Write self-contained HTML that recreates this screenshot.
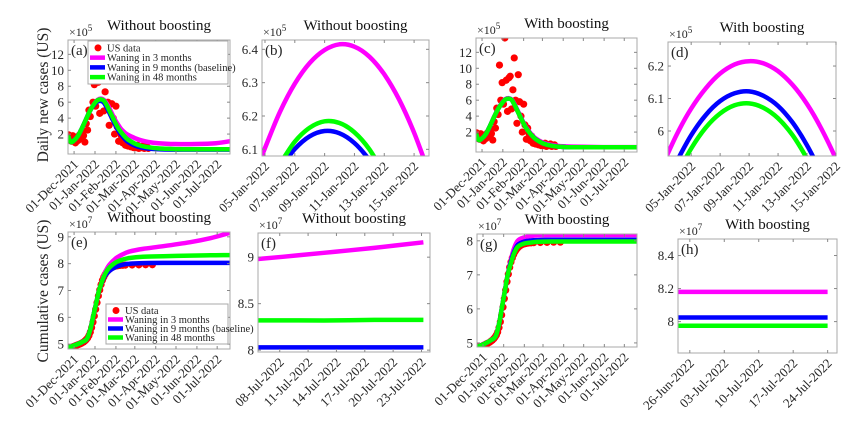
<!DOCTYPE html>
<html><head><meta charset="utf-8"><style>
html,body{margin:0;padding:0;background:#fff}
svg{display:block;font-family:"Liberation Serif",serif}
</style></head><body>
<svg id="fig" width="866" height="432" viewBox="0 0 866 432" xmlns="http://www.w3.org/2000/svg"></svg>
<script>
// ---- data (values in units of axis exponent) ----
const monthTickDays=[0,31,62,90,121,151,182,212];
const monthTickLabels=["01-Dec-2021","01-Jan-2022","01-Feb-2022","01-Mar-2022","01-Apr-2022","01-May-2022","01-Jun-2022","01-Jul-2022"];
// daily data (x1e5)
const dataDays=[-8,-6,-4,-2,0,2,4,6,8,10,12,14,16,18,20,22,24,26,28,30,32,34,36,38,40,42,44,46,48,50,52,54,56,58,60,62,64,66,68,70,72,74,76,78,80,82,84,86,88,90,92,94,96,98,100,102,104,106,108,110];
const dataDaily=[1.9,1.5,1.1,1.8,1.3,0.9,1.6,1.2,1.9,1.4,2.4,1.8,1.0,3.3,2.5,5.0,4.2,10.4,6.0,8.2,5.5,13.8,8.5,4.6,8.8,9.0,4.9,7.3,11.3,6.0,3.1,9.2,5.8,4.0,2.0,5.5,2.9,1.1,2.5,1.8,0.9,1.5,0.6,1.0,0.5,0.8,0.4,0.7,0.3,0.5,0.3,0.6,0.2,0.4,0.3,0.5,0.2,0.3,0.4,0.2];
const curveDays=[-9,-5,0,6,12,18,24,30,35,40,44,48,52,56,60,65,70,75,80,90,100,110,125,150,180,210,231];
const aMagenta=[1.8,1.0,1.2,1.8,2.8,3.9,5.0,5.8,6.3,6.45,6.3,5.9,5.3,4.6,3.9,3.2,2.6,2.2,1.9,1.5,1.2,1.0,0.85,0.75,0.75,0.85,1.1];
const aBlue=[1.8,1.0,1.2,1.8,2.8,3.9,5.0,5.7,6.1,6.15,5.95,5.4,4.7,4.0,3.3,2.5,1.9,1.4,1.0,0.55,0.3,0.18,0.1,0.05,0.05,0.05,0.05];
const aGreen=[1.8,1.0,1.2,1.8,2.8,3.9,5.0,5.8,6.25,6.35,6.2,5.7,5.0,4.3,3.6,2.8,2.2,1.7,1.3,0.8,0.5,0.35,0.2,0.12,0.1,0.1,0.1];
const cMagenta=[1.8,1.0,1.2,1.8,2.8,3.9,4.9,5.7,6.15,6.25,6.1,5.6,4.9,4.2,3.5,2.7,2.1,1.6,1.2,0.7,0.45,0.3,0.2,0.15,0.12,0.12,0.12];
const cBlue=[1.8,1.0,1.2,1.8,2.8,3.9,4.9,5.65,6.1,6.2,6.05,5.5,4.8,4.1,3.4,2.6,2.0,1.5,1.1,0.6,0.35,0.2,0.12,0.1,0.1,0.1,0.1];
const cGreen=[1.8,1.0,1.2,1.8,2.8,3.9,4.9,5.65,6.1,6.2,6.05,5.5,4.8,4.1,3.4,2.6,2.0,1.5,1.1,0.6,0.35,0.2,0.12,0.1,0.1,0.1,0.1];
// zoomed daily (x1e5), day of January
const janDays=[3,4,5,6,7,8,9,10,11,12,13,14,15,16];
const bMagenta=[5.88,5.99,6.104,6.212,6.297,6.359,6.398,6.415,6.408,6.378,6.325,6.249,6.150,6.029];
const bBlue=[5.84,5.93,5.99,6.041,6.101,6.139,6.155,6.148,6.119,6.068,6.0,5.92,5.83,5.72];
const bGreen=[5.86,5.95,6.01,6.058,6.123,6.165,6.184,6.179,6.151,6.100,6.025,5.94,5.84,5.73];
const dMagenta=[5.892,5.989,6.069,6.131,6.177,6.205,6.215,6.208,6.184,6.142,6.083,6.006,5.913,5.80];
const dBlue=[5.82,5.906,5.987,6.049,6.092,6.116,6.122,6.108,6.077,6.026,5.956,5.868,5.77,5.66];
const dGreen=[5.77,5.863,5.946,6.010,6.054,6.079,6.085,6.071,6.039,5.987,5.915,5.83,5.73,5.62];
const janTicks=[5,7,9,11,13,15];
const janTickLabels=["05-Jan-2022","07-Jan-2022","09-Jan-2022","11-Jan-2022","13-Jan-2022","15-Jan-2022"];
// cumulative (x1e7)
const cumDataDays=[-8,-2,0,2,4,6,8,10,12,14,16,18,20,22,24,26,28,30,32,34,36,38,40,42,44,46,48,50,52,54,56,58,60,62,64,66,68,72,76,86,96,106,116];
const cumData=[4.88,4.90,4.92,4.94,4.96,4.98,5.00,5.02,5.05,5.08,5.12,5.17,5.23,5.32,5.45,5.62,5.82,6.05,6.30,6.55,6.80,7.02,7.22,7.38,7.50,7.60,7.68,7.74,7.79,7.83,7.86,7.88,7.90,7.91,7.92,7.93,7.935,7.94,7.945,7.95,7.955,7.96,7.96];
const cumDays=[-9,2,12,19,24,28,33,37,42,46,52,62,72,82,102,132,172,202,231];
const eMagenta=[4.88,4.97,5.08,5.2,5.55,6.0,6.55,7.0,7.4,7.68,7.95,8.2,8.35,8.45,8.55,8.65,8.8,8.95,9.15];
const eBlue=[4.88,4.97,5.08,5.2,5.55,6.0,6.55,7.0,7.35,7.55,7.72,7.88,7.96,8.0,8.02,8.03,8.03,8.03,8.03];
const eGreen=[4.88,4.97,5.08,5.2,5.55,6.0,6.55,7.0,7.38,7.62,7.85,8.05,8.15,8.21,8.26,8.28,8.30,8.31,8.32];
const gMagenta=[4.88,4.97,5.08,5.2,5.55,6.0,6.55,7.0,7.45,7.75,8.0,8.1,8.14,8.16,8.17,8.17,8.17,8.17,8.17];
const gBlue=[4.88,4.97,5.08,5.2,5.55,6.0,6.55,7.0,7.4,7.65,7.88,7.98,8.01,8.02,8.03,8.03,8.03,8.03,8.03];
const gGreen=[4.88,4.97,5.08,5.2,5.55,6.0,6.55,7.0,7.35,7.6,7.82,7.92,7.95,7.97,7.98,7.98,7.98,7.98,7.98];
// July zoom (x1e7)
const julDays=[5.7,10,14,18,23.2];
const fMagenta=[8.98,9.02,9.06,9.10,9.16];
const fBlue=[8.03,8.03,8.03,8.03,8.03];
const fGreen=[8.32,8.32,8.32,8.325,8.325];
const julTicks=[8,11,14,17,20,23];
const julTickLabels=["08-Jul-2022","11-Jul-2022","14-Jul-2022","17-Jul-2022","20-Jul-2022","23-Jul-2022"];
const hDays=[23.6,54];
const hMagenta=[8.18,8.18];
const hBlue=[8.025,8.025];
const hGreen=[7.975,7.975];
const hTicks=[26,33,40,47,54];
const hTickLabels=["26-Jun-2022","03-Jul-2022","10-Jul-2022","17-Jul-2022","24-Jul-2022"];

const NS="http://www.w3.org/2000/svg";
const svg=document.getElementById('fig');
function mk(tag,attrs,parent){const e=document.createElementNS(NS,tag);for(const k in attrs)e.setAttribute(k,attrs[k]);(parent||svg).appendChild(e);return e;}
const COLORS={m:"#ff00ff",b:"#0000ff",g:"#00ff00",r:"#ff0000"};

function smoothPath(pts){
  if(pts.length<3)return "M"+pts.map(p=>p[0].toFixed(1)+","+p[1].toFixed(1)).join("L");
  let d="M"+pts[0][0].toFixed(1)+","+pts[0][1].toFixed(1);
  for(let i=0;i<pts.length-1;i++){
    const p0=pts[i-1]||pts[i],p1=pts[i],p2=pts[i+1],p3=pts[i+2]||p2;
    const c1=[p1[0]+(p2[0]-p0[0])/6,p1[1]+(p2[1]-p0[1])/6];
    const c2=[p2[0]-(p3[0]-p1[0])/6,p2[1]-(p3[1]-p1[1])/6];
    d+="C"+c1[0].toFixed(1)+","+c1[1].toFixed(1)+" "+c2[0].toFixed(1)+","+c2[1].toFixed(1)+" "+p2[0].toFixed(1)+","+p2[1].toFixed(1);
  }
  return d;
}

let clipId=0;
function panel(cfg){
  const g=mk('g',{});
  
  
  const {L,R,T,B}=cfg;
  const sx=v=>L+(v-cfg.xlim[0])/(cfg.xlim[1]-cfg.xlim[0])*(R-L);
  const sy=v=>B-(v-cfg.ylim[0])/(cfg.ylim[1]-cfg.ylim[0])*(B-T);
  const cid='clip'+(clipId++);
  const cp=mk('clipPath',{id:cid},g);mk('rect',{x:L,y:T,width:R-L,height:B-T},cp);
  const plot=mk('g',{'clip-path':'url(#'+cid+')'},g);
  if(cfg.dots){
    const dg=mk('g',{},plot);
    
    
    cfg.dots.x.forEach((d,i)=>{
      const c=mk('circle',{cx:sx(d),cy:sy(cfg.dots.y[i]),r:3.6,fill:COLORS.r},dg);
      
      
    });
  }
  cfg.lines.forEach(ln=>{
    const pts=ln.x.map((d,i)=>[sx(d),sy(ln.y[i])]);
    const p=mk('path',{d:smoothPath(pts),fill:'none',stroke:COLORS[ln.c],'stroke-width':4.5,'stroke-linecap':'butt'},plot);
    
    
  });
  const fr=mk('rect',{x:L,y:T,width:R-L,height:B-T,fill:'none',stroke:'#a8a8a8','stroke-width':1},g);
  
  
  cfg.yticks.forEach((v,i)=>{
    const y=sy(v);
    mk('line',{x1:L,x2:L+3,y1:y,y2:y,stroke:'#888'},g);
    mk('line',{x1:R,x2:R-3,y1:y,y2:y,stroke:'#888'},g);
    const t=mk('text',{x:L-4,y:y+4.5,'text-anchor':'end','font-size':13,fill:'#262626'},g);
    t.textContent=cfg.ytickLabels[i];
    
    
  });
  cfg.xticks.forEach((v,i)=>{
    const x=sx(v);
    mk('line',{x1:x,x2:x,y1:B,y2:B-3,stroke:'#888'},g);
    mk('line',{x1:x,x2:x,y1:T,y2:T+3,stroke:'#888'},g);
    const t=mk('text',{x:0,y:0,'text-anchor':'end','font-size':13,fill:'#262626',transform:'translate('+(x+5)+','+(B+11)+') rotate(-45)'},g);
    t.textContent=cfg.xtickLabels[i];
    
    
  });
  const ex=mk('text',{x:L+1,y:T-4,'font-size':12,fill:'#262626'},g);
  
  
  ex.innerHTML='×10<tspan font-size="9" dy="-5">'+cfg.exp+'</tspan>';
  const tt=mk('text',{x:(L+R)/2+10,y:T-10,'text-anchor':'middle','font-size':15,fill:'#111'},g);
  tt.textContent=cfg.title;
  
  
  const pl=mk('text',{x:L+3,y:T+15,'font-size':15,fill:'#262626'},g);
  pl.textContent='('+cfg.id+')';
  
  
  return g;
}

const lines3=(x,m,b,gg)=>[{x:x,y:m,c:'m',name:'waning-3-months-line'},{x:x,y:b,c:'b',name:'waning-9-months-line'},{x:x,y:gg,c:'g',name:'waning-48-months-line'}];
const dailyYT=[2,4,6,8,10,12];
const mxl=[-9,231];

panel({id:'a',L:68,R:230,T:40,B:154,xlim:mxl,ylim:[-0.5,13.8],yticks:dailyYT,ytickLabels:dailyYT.map(String),xticks:monthTickDays,xtickLabels:monthTickLabels,exp:5,title:'Without boosting',dots:{x:dataDays,y:dataDaily},lines:lines3(curveDays,aMagenta,aBlue,aGreen)});
panel({id:'b',L:262,R:429,T:40,B:156,xlim:[4.8,16.0],ylim:[6.08,6.428],yticks:[6.1,6.2,6.3,6.4],ytickLabels:["6.1","6.2","6.3","6.4"],xticks:janTicks,xtickLabels:janTickLabels,exp:5,title:'Without boosting',lines:lines3(janDays,bMagenta,bBlue,bGreen)});
panel({id:'c',L:476,R:637,T:38,B:152,xlim:mxl,ylim:[-0.5,13.8],yticks:dailyYT,ytickLabels:dailyYT.map(String),xticks:monthTickDays,xtickLabels:monthTickLabels,exp:5,title:'With boosting',dots:{x:dataDays,y:dataDaily},lines:lines3(curveDays,cMagenta,cBlue,cGreen)});
panel({id:'d',L:668,R:836,T:42,B:156,xlim:[3.4,15.0],ylim:[5.923,6.274],yticks:[6,6.1,6.2],ytickLabels:["6","6.1","6.2"],xticks:janTicks,xtickLabels:janTickLabels,exp:5,title:'With boosting',lines:lines3(janDays,dMagenta,dBlue,dGreen)});
panel({id:'e',L:68,R:230,T:232,B:349,xlim:mxl,ylim:[4.82,9.18],yticks:[5,6,7,8,9],ytickLabels:["5","6","7","8","9"],xticks:monthTickDays,xtickLabels:monthTickLabels,exp:7,title:'Without boosting',dots:{x:cumDataDays,y:cumData},lines:lines3(cumDays,eMagenta,eBlue,eGreen)});
panel({id:'f',L:258,R:430,T:233,B:352,xlim:[5.7,23.9],ylim:[7.98,9.26],yticks:[8,8.5,9],ytickLabels:["8","8.5","9"],xticks:julTicks,xtickLabels:julTickLabels,exp:7,title:'Without boosting',lines:lines3(julDays,fMagenta,fBlue,fGreen)});
panel({id:'g',L:477,R:637,T:234,B:347,xlim:mxl,ylim:[4.88,8.2],yticks:[5,6,7,8],ytickLabels:["5","6","7","8"],xticks:monthTickDays,xtickLabels:monthTickLabels,exp:7,title:'With boosting',dots:{x:cumDataDays,y:cumData},lines:lines3(cumDays,gMagenta,gBlue,gGreen)});
panel({id:'h',L:678,R:837,T:239,B:353,xlim:[23.6,55.9],ylim:[7.81,8.5],yticks:[8,8.2,8.4],ytickLabels:["8","8.2","8.4"],xticks:hTicks,xtickLabels:hTickLabels,exp:7,title:'With boosting',lines:lines3(hDays,hMagenta,hBlue,hGreen)});

function ylab(txt,y,name){const t=mk('text',{x:0,y:0,'text-anchor':'middle','font-size':15.5,fill:'#262626',transform:'translate(48,'+y+') rotate(-90)'});t.textContent=txt;}
ylab('Daily new cases (US)',95,'y-axis-title-daily');
ylab('Cumulative cases (US)',291,'y-axis-title-cumulative');

function legend(x,y,w,h,name){
  const g=mk('g',{});
  
  
  mk('rect',{x:x,y:y,width:w,height:h,fill:'#fff',stroke:'#a8a8a8'},g);
  const items=[['US data','r'],['Waning in 3 months','m'],['Waning in 9 months (baseline)','b'],['Waning in 48 months','g']];
  const rh=(h-4)/4;
  items.forEach((it,i)=>{
    const cy=y+2+rh*(i+0.5);
    if(it[1]==='r'){mk('circle',{cx:x+10,cy:cy,r:3.5,fill:COLORS.r},g);}
    else mk('line',{x1:x+2,x2:x+17,y1:cy,y2:cy,stroke:COLORS[it[1]],'stroke-width':4.5},g);
    const t=mk('text',{x:x+19,y:cy+3.5,'font-size':10.5,fill:'#262626'},g);
    t.textContent=it[0];
    
    
  });
}
legend(88,41,140,43,'legend-daily');
legend(106,304,122,40,'legend-cumulative');
</script>
</body></html>
